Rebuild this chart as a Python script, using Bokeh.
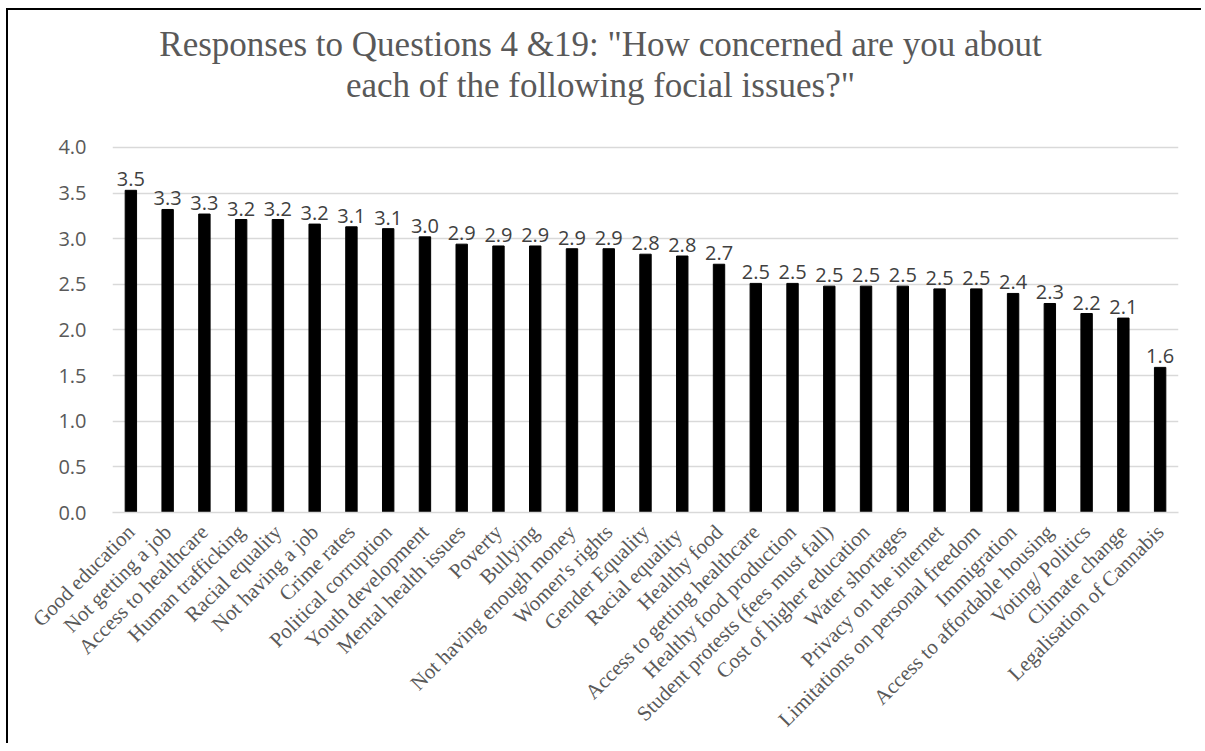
from bokeh.plotting import figure
from bokeh.models import ColumnDataSource, LabelSet, Label, FixedTicker, PrintfTickFormatter, Range1d
from bokeh.core.properties import value
from bokeh.embed import file_html
from bokeh.resources import INLINE
import math

# Social issues, ordered by mean level of concern
issues = [
    "Good education", "Not getting a job", "Access to healthcare", "Human trafficking",
    "Racial equality", "Not having a job", "Crime rates", "Political corruption",
    "Youth development", "Mental health issues", "Poverty", "Bullying",
    "Not having enough money", "Women's rights", "Gender Equality", "Racial equality ",
    "Healthy food", "Access to getting healthcare", "Healthy food production",
    "Student protests (fees must fall)", "Cost of higher education", "Water shortages",
    "Privacy on the internet", "Limitations on personal freedom", "Immigration",
    "Access to affordable housing", "Voting/ Politics", "Climate change",
    "Legalisation of Cannabis",
]
# "Racial equality" appears twice in the survey list; the second one carries a trailing
# space so both keep their own category slot.
mean_concern = [
    3.53, 3.32, 3.27, 3.21, 3.21, 3.16, 3.13, 3.11,
    3.02, 2.94, 2.92, 2.92, 2.89, 2.89, 2.83, 2.81,
    2.72, 2.51, 2.51, 2.48, 2.48, 2.48, 2.45, 2.45,
    2.40, 2.29, 2.18, 2.13, 1.59,
]
y_ticks = [0.0, 0.5, 1.0, 1.5, 2.0, 2.5, 3.0, 3.5, 4.0]
title_lines = [
    "Responses to Questions 4 &19: \"How concerned are you about",
    "each of the following focial issues?\"",
]

source = ColumnDataSource(dict(
    issue=issues,
    value=mean_concern,
    label=[f"{v:.1f}" for v in mean_concern],
))

TEXT_GREY = "#595959"
GRID_GREY = "#d9d9d9"
SANS = "Open Sans"
SERIF = "Liberation Serif"

# The plot area reaches up to the top of the canvas so the two-line heading
# can sit inside it; ticks and gridlines stop at 4.0.
p = figure(
    x_range=issues,
    y_range=Range1d(0, 5.5),
    width=1195, height=735,
    title=None,
    output_backend="svg",
    toolbar_location=None,
    min_border_left=104, min_border_right=25,
    min_border_top=0, min_border_bottom=233,
    background_fill_color="white", border_fill_color="white",
    outline_line_color=None,
)
p.styles = {
    "border-left": "2px solid #000000",
    "border-top": "2px solid #000000",
    "margin-left": "6px",
    "margin-top": "8px",
}

# Heading: two centred lines, placed in screen pixels from the plot area's lower-left corner
for line, y_px in zip(title_lines, [468, 427]):
    p.add_layout(Label(x=488, y=y_px, x_units="screen", y_units="screen", text=line,
                       text_align="center", text_baseline="alphabetic",
                       text_font=SERIF, text_font_size="35px", text_color=TEXT_GREY))

p.vbar(x="issue", top="value", width=0.31, source=source,
       fill_color="black", line_color="black")

labels = LabelSet(x="issue", y="value", text="label", source=source,
                  text_align="center", text_baseline="bottom", y_offset=4,
                  text_font=value(SANS), text_font_size=value("20px"),
                  text_color="#404040")
p.add_layout(labels)

# Horizontal gridlines only
p.xgrid.grid_line_color = None
p.ygrid.grid_line_color = GRID_GREY
p.ygrid.grid_line_width = 1.5
p.ygrid.ticker = FixedTicker(ticks=y_ticks)

# Value axis
p.yaxis.ticker = FixedTicker(ticks=y_ticks)
p.yaxis.formatter = PrintfTickFormatter(format="%.1f")
p.yaxis.axis_line_color = None
p.yaxis.major_tick_line_color = None
p.yaxis.minor_tick_line_color = None
p.yaxis.major_label_text_font = SANS
p.yaxis.major_label_text_font_size = "20px"
p.yaxis.major_label_text_color = TEXT_GREY
p.yaxis.major_label_standoff = 20

# Category axis with slanted labels
p.xaxis.axis_line_color = GRID_GREY
p.xaxis.axis_line_width = 1.5
p.xaxis.major_tick_line_color = None
p.xaxis.minor_tick_line_color = None
p.xaxis.major_label_orientation = math.pi / 4
p.xaxis.major_label_text_font = SERIF
p.xaxis.major_label_text_font_size = "21px"
p.xaxis.major_label_text_color = TEXT_GREY
p.xaxis.major_label_standoff = 10

open("out.html", "w").write(file_html(p, INLINE))
